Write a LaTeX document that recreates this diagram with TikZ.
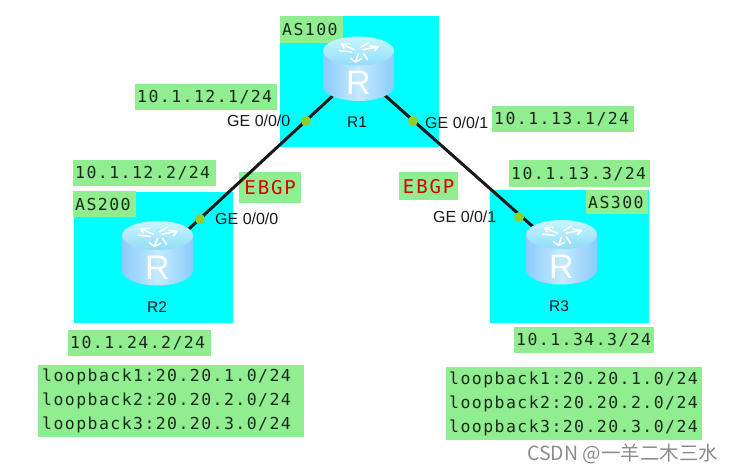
\documentclass[tikz,border=0pt]{standalone}
\usepackage{fontspec}
\setmainfont{Liberation Sans}
\newfontfamily\labfont[LetterSpace=8.7]{DejaVu Sans Mono}
\newfontfamily\ebgpfont[LetterSpace=10]{DejaVu Sans Mono}
\newfontfamily\cjkfont{Noto Sans CJK SC}
\definecolor{lab}{HTML}{90EE90}
\definecolor{zone}{HTML}{00FFFF}
\definecolor{port}{HTML}{8CD030}
\definecolor{textdark}{HTML}{1A2A1A}
\definecolor{sideedge}{HTML}{8CCBFA}
\definecolor{sidemid}{HTML}{C4EBFF}
\definecolor{topa}{HTML}{C8F6FF}
\definecolor{topb}{HTML}{92DCF8}
\tikzset{
  labelbox/.style={fill=lab,draw=none,inner ysep=0pt,align=left,text=textdark,font=\labfont\fontsize{16.5}{24}\selectfont},
  zonebox/.style={fill=zone,draw=none,inner sep=0pt},
  link/.style={draw=black!90,line width=3pt},
  portdot/.style={circle,fill=port,draw=none,minimum size=10pt,inner sep=0pt},
  iface/.style={font=\fontsize{16}{18}\selectfont,text=black!90,inner sep=0pt},
  rname/.style={font=\fontsize{15.5}{18}\selectfont,text=black!90,inner sep=0pt},
  router/.pic={
    \shade[left color=sideedge,right color=sideedge,middle color=sidemid]
      (-35.5,-23) -- (-35.5,12) arc[start angle=180,end angle=0,x radius=35.5,y radius=15] -- (35.5,-23) -- cycle;
    \shade[top color=topa,bottom color=topb]
      (0,-23) ellipse[x radius=35.5,y radius=14.5];
    \foreach \a in {30,150,270}{
      \begin{scope}[shift={(0,-23)},yscale=0.52,rotate=\a]
        \draw[white,line width=1.6pt,line cap=round,line join=round] (5,0) -- (21,3) (21,3) -- (15,-3) (21,3) -- (14,8);
        \draw[white,line width=1.6pt,line cap=round,line join=round] (5,-5) -- (17,-9);
      \end{scope}
    }
    \node[text=white,inner sep=0pt,font=\fontsize{34}{34}\selectfont] at (0,9) {R};
  }
}
\newcommand{\labelat}[7][2]{%
  \pgfmathsetmacro{\boxw}{#5-#3-2*#1}%
  \pgfmathsetmacro{\boxh}{#6-#4}%
  \node[labelbox,anchor=north west,text width=\boxw pt,inner xsep=#1pt,minimum height=\boxh pt] (#2) at (#3,#4) {#7};%
}
\begin{document}
\begin{tikzpicture}[x=1pt,y=-1pt]
\useasboundingbox (0,0) rectangle (734,473);
% zones
\node[zonebox,anchor=north west,minimum width=159pt,minimum height=131pt] (zone1) at (280,16) {};
\node[zonebox,anchor=north west,minimum width=159pt,minimum height=131pt] (zone2) at (74,192) {};
\node[zonebox,anchor=north west,minimum width=159pt,minimum height=133pt] (zone3) at (490,190) {};
% labels
\labelat{asa}{280}{16}{343}{43}{AS100}
\labelat{ipa}{135}{84}{277}{110}{10.1.12.1/24}
\labelat{ipb}{73}{160}{216}{186}{10.1.12.2/24}
\labelat{asb}{73}{191}{136}{217}{AS200}
\labelat{ipc}{492}{106}{634}{132}{10.1.13.1/24}
\labelat{ipd}{509}{160}{650}{187}{10.1.13.3/24}
\labelat{asc}{586}{190}{648}{214}{AS300}
\labelat{ipe}{68}{330}{211}{356}{10.1.24.2/24}
\labelat{ipf}{514}{327}{654}{353}{10.1.34.3/24}
\labelat[4]{loopa}{38}{365}{304}{437}{loopback1:20.20.1.0/24\\loopback2:20.20.2.0/24\\loopback3:20.20.3.0/24}
\labelat[3]{loopb}{446}{367}{702}{440}{loopback1:20.20.1.0/24\\loopback2:20.20.2.0/24\\loopback3:20.20.3.0/24}
\node[fill=lab,inner sep=0pt,anchor=north west,minimum width=62pt,minimum height=31pt,text=red!85!black,font=\ebgpfont\fontsize{19}{20}\selectfont] (ebgpa) at (239,172) {EBGP};
\node[fill=lab,inner sep=0pt,anchor=north west,minimum width=59pt,minimum height=28pt,text=red!85!black,font=\ebgpfont\fontsize{19}{20}\selectfont] (ebgpb) at (399,172) {EBGP};
% connectors
\coordinate (c1) at (358.5,72);
\coordinate (c2) at (157.5,258);
\coordinate (c3) at (561.5,252);
\draw[link] (c1) -- (c2);
\draw[link] (c1) -- (c3);
\node[portdot] (p12) at (306,121) {};
\node[portdot] (p21) at (200,219) {};
\node[portdot] (p13) at (413,121) {};
\node[portdot] (p31) at (519,217) {};
% routers
\pic at (358.5,74) {router};
\pic at (157.5,258.5) {router};
\pic at (561.5,257.5) {router};
\node[rname] (r1) at (357,122) {R1};
\node[rname] (r2) at (157,307) {R2};
\node[rname] (r3) at (559,306) {R3};
% interface labels
\node[iface,anchor=west] (ia) at (227,121) {GE 0/0/0};
\node[iface,anchor=west] (ib) at (215,219) {GE 0/0/0};
\node[iface,anchor=west] (ic) at (425,123) {GE 0/0/1};
\node[iface,anchor=west] (id) at (433,217) {GE 0/0/1};
% watermark
\node[anchor=west,inner sep=0pt,text=black!45,font=\cjkfont\fontsize{19.5}{22}\selectfont] (mark) at (527,454) {CSDN @一羊二木三水};
\end{tikzpicture}
\end{document}
